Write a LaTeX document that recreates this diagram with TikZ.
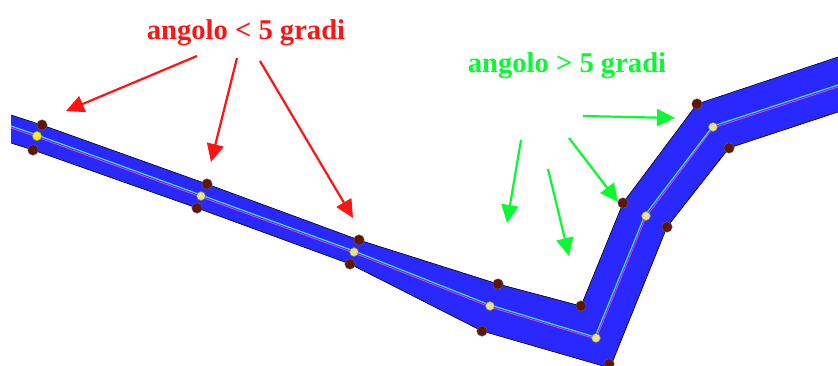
\documentclass[tikz,border=0pt]{standalone}
\usepackage{fontspec}
\setmainfont{Liberation Serif}
\usepackage{xcolor}
\usetikzlibrary{arrows.meta,positioning}
\definecolor{road}{RGB}{40,40,255}
\definecolor{axiscyan}{RGB}{50,225,205}
\definecolor{axismag}{RGB}{240,50,220}
\definecolor{brownpt}{RGB}{95,22,5}
\definecolor{palept}{RGB}{232,228,140}
\definecolor{firstpt}{RGB}{250,240,20}
\definecolor{redlab}{RGB}{255,20,20}
\definecolor{greenlab}{RGB}{10,250,50}
\tikzset{
  smallangle/.style={line width=2.2pt,redlab,-{Triangle[length=18pt,width=17pt]}},
  bigangle/.style={line width=2.2pt,greenlab,-{Triangle[length=18pt,width=17pt]}},
  edgept/.style={circle,fill=brownpt,draw=black!60,line width=0.4pt,inner sep=0pt,minimum size=10.5pt},
  axispt/.style={circle,fill=palept,draw=black!55,line width=0.6pt,inner sep=0pt,minimum size=9pt},
  startpt/.style={axispt,fill=firstpt,draw=firstpt!70!black},
  label/.style={font=\bfseries\fontsize{28.6}{32}\selectfont,inner sep=0pt}
}
\begin{document}
\begin{tikzpicture}[x=1pt,y=-1pt]
  \useasboundingbox (0,0) rectangle (838,365);
  \fill[white] (0,0) rectangle (838,365);
  \begin{scope}
    \clip (0,0) rectangle (838,365);
    \fill[road] (11,115)--(42,125)--(207,184)--(359,240)--(498,284)--(581,306)
      --(623,203)--(697,104)--(838,57)--(838,112)--(729,148)--(667,227)
      --(610,368)--(482,331)--(350,264)--(197,208)--(33,150)--(11,143)--cycle;
    \draw[line width=0.6pt,black] (11,115)--(42,125)--(207,184)--(359,240)--(498,284)--(581,306)
      --(623,203)--(697,104)--(838,57);
    \draw[line width=0.6pt,black] (838,112)--(729,148)--(667,227)
      --(610,368)--(482,331)--(350,264)--(197,208)--(33,150)--(11,143);
    \draw[line width=0.9pt,axismag] (11,128)--(37,137)--(201,197)--(354,253)--(490,307)
      --(596,339)--(646,217)--(713,128)--(838,87);
    \draw[line width=1.3pt,axiscyan] (11,126)--(37,135)--(201,195)--(354,251)--(490,305)
      --(595,337)--(645,215)--(713,126)--(838,85);
  \end{scope}
  \foreach \px/\py [count=\i] in {42/125,33/150,207/184,197/208,359/240,350/264,
      498/284,482/331,581/306,609/364,623/203,667/227,697/104,729/148}
    \node[edgept] (edge\i) at (\px,\py) {};
  \node[startpt] (axis1) at (37,136) {};
  \foreach \px/\py [count=\i from 2] in {201/196,354/252,490/306,596/338,646/216,713/127}
    \node[axispt] (axis\i) at (\px,\py) {};
  \node[label,text=redlab] (lessangle) at (246,33) {angolo < 5 gradi};
  \node[label,text=greenlab] (moreangle) at (567,66) {angolo > 5 gradi};
  \coordinate (reda) at (197,56);
  \coordinate (redb) at (237,58);
  \coordinate (redc) at (260,61);
  \coordinate (redA) at (66,111);
  \coordinate (redB) at (211,162);
  \coordinate (redC) at (353,218);
  \coordinate (greena) at (583,116);
  \coordinate (greenb) at (569,138);
  \coordinate (greenc) at (521,140);
  \coordinate (greend) at (548,169);
  \coordinate (greenA) at (675,118);
  \coordinate (greenB) at (618,202);
  \coordinate (greenC) at (507,223);
  \coordinate (greenD) at (569,256);
  \draw[smallangle] (reda)--(redA);
  \draw[smallangle] (redb)--(redB);
  \draw[smallangle] (redc)--(redC);
  \draw[bigangle] (greena)--(greenA);
  \draw[bigangle] (greenb)--(greenB);
  \draw[bigangle] (greenc)--(greenC);
  \draw[bigangle] (greend)--(greenD);
\end{tikzpicture}
\end{document}
